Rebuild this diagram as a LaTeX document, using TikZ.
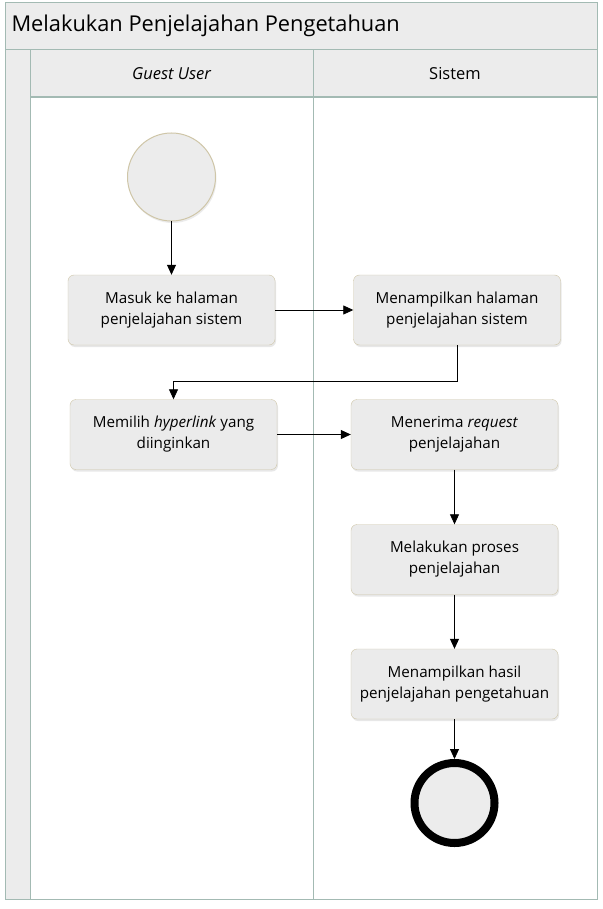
\documentclass[tikz,border=0pt]{standalone}
\usepackage{fontspec}
\setmainfont{Open Sans}
\usetikzlibrary{arrows.meta, shapes, positioning, shadows}

\definecolor{lanegray}{HTML}{ECECEC}
\definecolor{laneline}{HTML}{A3BAB3}
\definecolor{boxfill}{HTML}{EBEBEB}
\definecolor{boxline}{HTML}{CFC6A8}

\tikzset{
  act/.style={draw=boxline, fill=boxfill, rounded corners=6pt, minimum width=207pt,
    minimum height=70pt, align=center, font=\fontsize{15.2pt}{21pt}\selectfont,
    drop shadow={shadow xshift=1pt, shadow yshift=-2pt, fill=black!18}},
  flow/.style={-{Triangle[length=10pt,width=9pt]}, line width=0.8pt},
}

\begin{document}
\begin{tikzpicture}[x=1pt, y=-1pt]
  \useasboundingbox (0,0) rectangle (602,909);

  % Lanes
  \fill[white] (5,3) rectangle (597,899);
  \fill[lanegray] (5,3) rectangle (597,50);
  \fill[lanegray] (5,50) rectangle (30,899);
  \fill[lanegray] (30,50) rectangle (597,97);
  \draw[laneline, line width=1pt] (5,3) rectangle (597,899);
  \draw[laneline, line width=1pt] (5,50) -- (597,50);
  \draw[laneline, line width=1pt] (30,50) -- (30,899);
  \draw[laneline, line width=1.3pt] (30,97) -- (597,97);
  \draw[laneline, line width=1pt] (313,50) -- (313,899);
  \node[anchor=west, font=\fontsize{21.8pt}{26pt}\selectfont] (title) at (8,26) {Melakukan Penjelajahan Pengetahuan};
  \node[font=\fontsize{16.5pt}{20pt}\selectfont\itshape] (guest) at (171.5,73.5) {Guest User};
  \node[font=\fontsize{16.5pt}{20pt}\selectfont] (sys) at (455,73.5) {Sistem};

  % Nodes
  \node[circle, draw=boxline, fill=lanegray, minimum size=88pt, line width=1pt,
    drop shadow={shadow xshift=1pt, shadow yshift=-2pt, fill=black!15}] (start) at (171.5,177) {};
  \node[act] (masuk) at (171.5,310) {Masuk ke halaman\\penjelajahan sistem};
  \node[act] (tampil) at (457,310) {Menampilkan halaman\\penjelajahan sistem};
  \node[act] (pilih) at (173.5,434.5) {Memilih \textit{hyperlink} yang\\diinginkan};
  \node[act] (terima) at (454.5,434.5) {Menerima \textit{request}\\penjelajahan};
  \node[act] (proses) at (454.5,559.5) {Melakukan proses\\penjelajahan};
  \node[act] (hasil) at (454.5,684) {Menampilkan hasil\\penjelajahan pengetahuan};
  \node[circle, draw=black, fill=lanegray, minimum size=80pt, line width=8pt,
    drop shadow={shadow xshift=1pt, shadow yshift=-2pt, fill=black!15}] (end) at (454.5,803) {};

  % Edges
  \draw[flow] (start) -- (masuk);
  \draw[flow] (masuk) -- (tampil);
  \draw[flow] (tampil.south) |- (173.5,381) -- (pilih.north);
  \draw[flow] (pilih) -- (terima);
  \draw[flow] (terima) -- (proses);
  \draw[flow] (proses) -- (hasil);
  \draw[flow] (hasil) -- (end);
\end{tikzpicture}
\end{document}
